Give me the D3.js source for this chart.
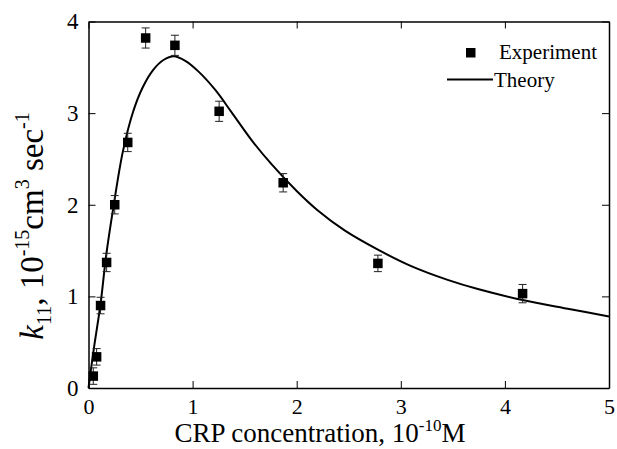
<!DOCTYPE html>
<html>
<head>
<meta charset="utf-8">
<script src="https://cdn.jsdelivr.net/npm/d3@7"></script>
<style>
  html, body { margin: 0; padding: 0; background: #fff; }
  svg { display: block; }
  text { font-family: 'Liberation Serif', 'Times New Roman', Times, serif; }
</style>
</head>
<body>
<div id="chart"></div>
<script>
// Experimental points (CRP concentration, 10^-10 M) and k11 values
const expX = [0.046, 0.078, 0.116, 0.174, 0.252, 0.377, 0.549, 0.83, 1.255, 1.87, 2.78, 4.17];
const expY = [0.13, 0.34, 0.90, 1.37, 2.0, 2.68, 3.82, 3.74, 3.02, 2.24, 1.36, 1.03];
const expErr = [0.09, 0.09, 0.09, 0.10, 0.10, 0.10, 0.11, 0.11, 0.11, 0.10, 0.09, 0.10];

// Theory curve
const theoryX = [0, 0.05, 0.116, 0.17, 0.24, 0.33, 0.43, 0.52, 0.62, 0.72, 0.82, 0.93, 1.06, 1.22, 1.38, 1.57, 1.76, 2.0, 2.2, 2.46, 2.78, 3.1, 3.45, 3.74, 4.17, 4.63, 5.0];
const theoryY = [0, 0.42, 0.92, 1.45, 1.98, 2.58, 3.02, 3.28, 3.47, 3.58, 3.62, 3.57, 3.45, 3.25, 3.0, 2.7, 2.44, 2.15, 1.94, 1.72, 1.51, 1.33, 1.18, 1.08, 0.96, 0.86, 0.78];

const xTicks = [0, 1, 2, 3, 4, 5];
const yTicks = [0, 1, 2, 3, 4];

const W = 617, H = 449;
const margin = { left: 88.5, right: 8, top: 21.5, bottom: 61 };
const FONT = "'Liberation Serif', 'Times New Roman', Times, serif";

const svg = d3.select("#chart").append("svg")
  .attr("width", W).attr("height", H)
  .attr("font-family", FONT);

svg.append("rect").attr("width", W).attr("height", H).attr("fill", "#fff");

const x = d3.scaleLinear().domain([0, 5]).range([margin.left, W - margin.right]);
const y = d3.scaleLinear().domain([0, 4]).range([H - margin.bottom, margin.top]);

// Axes with inward ticks on all four sides
const tickLen = 7;
function styleAxis(g) {
  g.attr("font-family", FONT);
  g.select(".domain").attr("stroke", "#000").attr("stroke-width", 1.5);
  g.selectAll(".tick line").attr("stroke", "#000").attr("stroke-width", 1);
}

svg.append("g")
  .attr("transform", `translate(0,${y(0)})`)
  .call(d3.axisBottom(x).tickValues(xTicks).tickSize(-tickLen).tickSizeOuter(0).tickPadding(10).tickFormat(d3.format("d")))
  .call(styleAxis)
  .call(g => g.selectAll(".tick text").attr("font-size", 22).attr("fill", "#000"));

svg.append("g")
  .attr("transform", `translate(0,${y(4)})`)
  .call(d3.axisTop(x).tickValues(xTicks).tickSize(-tickLen).tickSizeOuter(0).tickFormat(""))
  .call(styleAxis);

svg.append("g")
  .attr("transform", `translate(${x(0)},0)`)
  .call(d3.axisLeft(y).tickValues(yTicks).tickSize(-tickLen).tickSizeOuter(0).tickPadding(10).tickFormat(d3.format("d")))
  .call(styleAxis)
  .call(g => g.selectAll(".tick text").attr("font-size", 23).attr("fill", "#000"));

svg.append("g")
  .attr("transform", `translate(${x(5)},0)`)
  .call(d3.axisRight(y).tickValues(yTicks).tickSize(-tickLen).tickSizeOuter(0).tickFormat(""))
  .call(styleAxis);

// Theory curve
const line = d3.line()
  .x((d, i) => x(theoryX[i]))
  .y(d => y(d))
  .curve(d3.curveCatmullRom.alpha(0.5));

svg.append("path")
  .datum(theoryY)
  .attr("d", line)
  .attr("fill", "none")
  .attr("stroke", "#000")
  .attr("stroke-width", 2);

// Error bars
const cap = 4;
const bars = svg.append("g").attr("stroke", "#222").attr("stroke-width", 1);
expX.forEach((v, i) => {
  const cx = x(v), lo = y(expY[i] - expErr[i]), hi = y(expY[i] + expErr[i]);
  bars.append("line").attr("x1", cx).attr("x2", cx).attr("y1", lo).attr("y2", hi);
  bars.append("line").attr("x1", cx - cap).attr("x2", cx + cap).attr("y1", lo).attr("y2", lo);
  bars.append("line").attr("x1", cx - cap).attr("x2", cx + cap).attr("y1", hi).attr("y2", hi);
});

// Square markers
const sq = 9.5;
svg.append("g").selectAll("rect")
  .data(expY)
  .join("rect")
  .attr("x", (d, i) => x(expX[i]) - sq / 2)
  .attr("y", d => y(d) - sq / 2)
  .attr("width", sq).attr("height", sq)
  .attr("fill", "#000");

// Legend
const legend = svg.append("g");
legend.append("rect")
  .attr("x", 466).attr("y", 48).attr("width", sq).attr("height", sq).attr("fill", "#000");
legend.append("text")
  .attr("x", 499).attr("y", 59).attr("font-size", 21).text("Experiment");
legend.append("line")
  .attr("x1", 447).attr("x2", 493).attr("y1", 79.5).attr("y2", 79.5)
  .attr("stroke", "#000").attr("stroke-width", 2);
legend.append("text")
  .attr("x", 494).attr("y", 86.5).attr("font-size", 21).text("Theory");

// X axis title
const xt = svg.append("text")
  .attr("x", 320).attr("y", 442)
  .attr("text-anchor", "middle").attr("font-size", 27);
xt.append("tspan").text("CRP concentration, 10");
xt.append("tspan").attr("font-size", 17).attr("dy", -11).text("-10");
xt.append("tspan").attr("dy", 11).text("M");

// Y axis title
const yt = svg.append("text")
  .attr("transform", `translate(43,226) rotate(-90)`)
  .attr("text-anchor", "middle").attr("font-size", 33);
yt.append("tspan").attr("font-style", "italic").text("k");
yt.append("tspan").attr("font-size", 20).attr("dy", 8).text("11");
yt.append("tspan").attr("dy", -8).text(", 10");
yt.append("tspan").attr("font-size", 20).attr("dy", -14).text("-15");
yt.append("tspan").attr("dy", 14).text("cm");
yt.append("tspan").attr("font-size", 20).attr("dy", -14).text("3");
yt.append("tspan").attr("dy", 14).text(" sec");
yt.append("tspan").attr("font-size", 20).attr("dy", -14).text("-1");
</script>
</body>
</html>
